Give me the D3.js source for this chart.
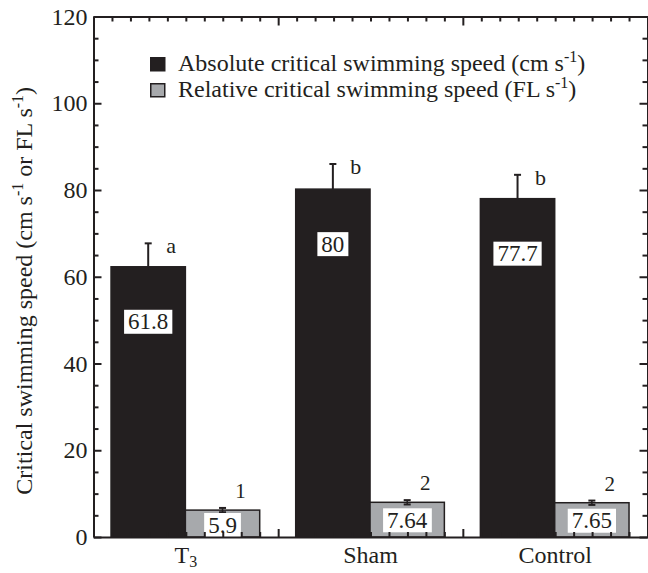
<!DOCTYPE html>
<meta charset="utf-8">
<style>
    body { margin: 0; background: #fff; }
    svg { display: block; font-family: "Liberation Serif", "Times New Roman", serif; }
    .axis path, .axis line { stroke: #231f20; stroke-width: 2; }
    .axis text { fill: #231f20; font-family: "Liberation Serif", serif; font-size: 24px; }
</style>
<body>
<script src="https://d3js.org/d3.v7.min.js"></script>
<script>
    // values
    const groups = ["T3", "Sham", "Control"];
    const absSpeed = [62.3, 80.2, 78.0];
    const absErr = [5.4, 5.8, 5.5];
    const absLabels = ["61.8", "80", "77.7"];
    const absLetters = ["a", "b", "b"];
    const relSpeed = [6.2, 8.0, 7.9];
    const relErr = [0.5, 0.5, 0.5];
    const relLabels = ["5.9", "7.64", "7.65"];
    const relLetters = ["1", "2", "2"];
    const yTicks = [0, 20, 40, 60, 80, 100, 120];

    let width = 648, height = 573;
    let margin = {left: 93.5, top: 16.5, right: 0.5, bottom: 36};
    let w = width - margin.left - margin.right;
    let h = height - margin.top - margin.bottom;
    let ink = "#231f20";

    let svg = d3.select("body").append("svg")
        .attr("width", width)
        .attr("height", height);
    let g = svg.append("g")
        .attr("transform", "translate(" + margin.left + "," + margin.top + ")");

    let y = d3.scaleLinear().domain([0, 120]).range([h, 0]);
    let x0 = d3.scaleBand().domain(groups).range([0, w]).padding(0);
    let gw = x0.bandwidth();
    let x1 = d3.scaleBand().domain(["abs", "rel"]).range([0.095 * gw, 0.9 * gw]).padding(0);
    // continuous x for the minor ticks along top/bottom
    let xl = d3.scaleLinear().domain([0, groups.length]).range([0, w]);

    let rows = groups.map(function(d, i) {
        return {group: d, abs: absSpeed[i], absErr: absErr[i], absLabel: absLabels[i], absLetter: absLetters[i],
                rel: relSpeed[i], relErr: relErr[i], relLabel: relLabels[i], relLetter: relLetters[i]};
    });

    // bars
    let bg = g.selectAll("g.grp").data(rows).join("g")
        .attr("class", "grp")
        .attr("transform", function(d) { return "translate(" + x0(d.group) + ",0)"; });

    bg.append("rect")
        .attr("x", x1("abs")).attr("width", x1.bandwidth())
        .attr("y", function(d) { return y(d.abs); })
        .attr("height", function(d) { return h - y(d.abs); })
        .attr("fill", ink).attr("stroke", ink).attr("stroke-width", 1.5);

    bg.append("rect")
        .attr("x", x1("rel")).attr("width", x1.bandwidth())
        .attr("y", function(d) { return y(d.rel); })
        .attr("height", function(d) { return h - y(d.rel); })
        .attr("fill", "#a7a9ac").attr("stroke", ink).attr("stroke-width", 1.5);

    // error bars
    let cx1 = x1("abs") + x1.bandwidth() / 2;
    let cx2 = x1("rel") + x1.bandwidth() / 2;
    bg.append("line")
        .attr("x1", cx1).attr("x2", cx1)
        .attr("y1", function(d) { return y(d.abs); })
        .attr("y2", function(d) { return y(d.abs + d.absErr); })
        .attr("stroke", ink).attr("stroke-width", 2);
    bg.append("line")
        .attr("x1", cx1 - 3.5).attr("x2", cx1 + 3.5)
        .attr("y1", function(d) { return y(d.abs + d.absErr); })
        .attr("y2", function(d) { return y(d.abs + d.absErr); })
        .attr("stroke", ink).attr("stroke-width", 2);
    bg.append("line")
        .attr("x1", cx2).attr("x2", cx2)
        .attr("y1", function(d) { return y(d.rel - d.relErr); })
        .attr("y2", function(d) { return y(d.rel + d.relErr); })
        .attr("stroke", ink).attr("stroke-width", 1.5);
    [-1, 1].forEach(function(s) {
        bg.append("line")
            .attr("x1", cx2 - 3.5).attr("x2", cx2 + 3.5)
            .attr("y1", function(d) { return y(d.rel + s * d.relErr); })
            .attr("y2", function(d) { return y(d.rel + s * d.relErr); })
            .attr("stroke", ink).attr("stroke-width", 2);
    });

    // significance letters
    bg.append("text")
        .attr("x", cx1 + 23)
        .attr("y", function(d) { return y(d.abs + d.absErr) + 10; })
        .attr("text-anchor", "middle").attr("font-size", 22).attr("fill", ink)
        .text(function(d) { return d.absLetter; });
    bg.append("text")
        .attr("x", cx2 + 18)
        .attr("y", function(d) { return y(d.rel) - 12; })
        .attr("text-anchor", "middle").attr("font-size", 21).attr("fill", ink)
        .text(function(d) { return d.relLetter; });

    // value labels in white boxes
    function valueLabel(sel, cx, yFn, textFn) {
        sel.each(function(d) {
            let grp = d3.select(this);
            let lg = grp.append("g");
            let box = lg.append("rect").attr("fill", "#fff");
            let t = lg.append("text")
                .attr("x", cx).attr("y", 0)
                .attr("text-anchor", "middle").attr("dominant-baseline", "central")
                .attr("font-size", 23).attr("fill", ink)
                .text(textFn(d));
            let bb = t.node().getBBox();
            box.attr("x", bb.x - 4).attr("width", bb.width + 8)
                .attr("y", -12).attr("height", 24);
            lg.attr("transform", "translate(0," + yFn(d) + ")");
        });
    }
    valueLabel(bg, cx1, function(d) { return y(d.abs) + 55; }, function(d) { return d.absLabel; });
    valueLabel(bg, cx2, function(d) { return Math.min(y(d.rel) + 18, h - 12); }, function(d) { return d.relLabel; });

    // axes (ticks point inward on all four sides)
    let minorY = d3.range(0, 121, 5).filter(function(v) { return v % 20 !== 0; });
    let majorX = d3.range(0, groups.length + 1);
    let minorX = d3.range(0, groups.length * 10 + 1).map(function(v) { return v / 10; })
        .filter(function(v) { return Math.abs(v - Math.round(v)) > 1e-6; });

    g.append("g").attr("class", "axis")
        .call(d3.axisLeft(y).tickValues(yTicks).tickSize(-8).tickPadding(6).tickSizeOuter(0));
    g.append("g").attr("class", "axis")
        .call(d3.axisLeft(y).tickValues(minorY).tickSize(-5).tickFormat("").tickSizeOuter(0))
        .select(".domain").remove();

    let right = g.append("g").attr("class", "axis").attr("transform", "translate(" + w + ",0)");
    right.append("g").call(d3.axisRight(y).tickValues(yTicks).tickSize(-8).tickFormat("").tickSizeOuter(0));
    right.append("g").call(d3.axisRight(y).tickValues(minorY).tickSize(-5).tickFormat("").tickSizeOuter(0))
        .select(".domain").remove();

    g.append("g").attr("class", "axis")
        .call(d3.axisTop(xl).tickValues(majorX).tickSize(-9).tickFormat("").tickSizeOuter(0));
    g.append("g").attr("class", "axis")
        .call(d3.axisTop(xl).tickValues(minorX).tickSize(-5).tickFormat("").tickSizeOuter(0))
        .select(".domain").remove();

    let bottom = g.append("g").attr("class", "axis").attr("transform", "translate(0," + h + ")");
    bottom.append("g").call(d3.axisBottom(xl).tickValues(majorX).tickSize(-8).tickFormat("").tickSizeOuter(0));
    bottom.append("g").call(d3.axisBottom(xl).tickValues(minorX).tickSize(-5).tickFormat("").tickSizeOuter(0))
        .select(".domain").remove();

    // category labels (T3 with subscript)
    let xlab = g.append("g").selectAll("text").data(groups).join("text")
        .attr("x", function(d) { return x0(d) + gw / 2; })
        .attr("y", h + 26)
        .attr("text-anchor", "middle").attr("font-size", 24).attr("fill", ink);
    xlab.each(function(d) {
        let t = d3.select(this);
        if (d === "T3") {
            t.append("tspan").text("T");
            t.append("tspan").attr("font-size", 16).attr("dy", 4).text("3");
        } else {
            t.text(d);
        }
    });

    // y axis title
    let yt = svg.append("text")
        .attr("transform", "translate(32," + (margin.top + h * 0.527) + ") rotate(-90)")
        .attr("text-anchor", "middle").attr("font-size", 24).attr("fill", ink);
    yt.append("tspan").text("Critical swimming speed (cm s");
    yt.append("tspan").attr("font-size", 16).attr("dy", -9).text("-1");
    yt.append("tspan").attr("dy", 9).text(" or FL s");
    yt.append("tspan").attr("font-size", 16).attr("dy", -9).text("-1");
    yt.append("tspan").attr("dy", 9).text(")");

    // legend
    let legendItems = [
        {fill: ink, label: "Absolute critical swimming speed (cm s", tail: ")"},
        {fill: "#a7a9ac", label: "Relative critical swimming speed (FL s", tail: ")"}
    ];
    let lg = svg.append("g").attr("transform", "translate(150,57)");
    let li = lg.selectAll("g").data(legendItems).join("g")
        .attr("transform", function(d, i) { return "translate(0," + (i * 26) + ")"; });
    li.append("rect")
        .attr("x", 0.75).attr("y", 0.75).attr("width", 14).attr("height", 13)
        .attr("fill", function(d) { return d.fill; })
        .attr("stroke", ink).attr("stroke-width", 1.5);
    li.each(function(d) {
        let t = d3.select(this).append("text")
            .attr("x", 28).attr("y", 14)
            .attr("font-size", 24).attr("fill", ink);
        t.append("tspan").text(d.label);
        t.append("tspan").attr("font-size", 16).attr("dy", -9).text("-1");
        t.append("tspan").attr("dy", 9).text(d.tail);
    });
</script>
</body>
